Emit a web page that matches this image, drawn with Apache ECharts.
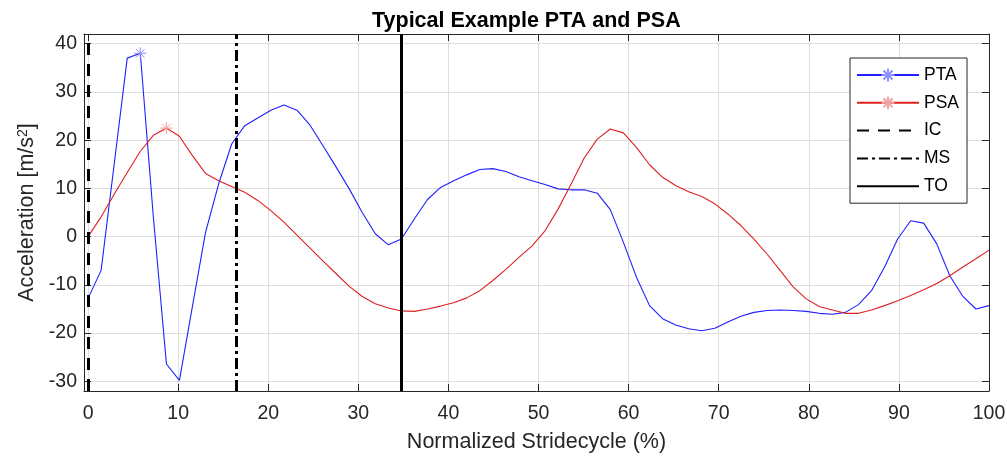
<!DOCTYPE html>
<html>
<head>
<meta charset="utf-8">
<script src="https://cdn.jsdelivr.net/npm/echarts@6/dist/echarts.min.js"></script>
<style>
  html, body { margin: 0; padding: 0; background: #fff; }
  #chart { width: 1007px; height: 456px; }
</style>
</head>
<body>
<div id="chart"></div>
<script>
// normalized stride cycle, 70 samples
const stride = [
  0, 1.45, 2.90, 4.35, 5.80, 7.25, 8.70, 10.14, 11.59, 13.04,
  14.49, 15.94, 17.39, 18.84, 20.29, 21.74, 23.19, 24.64, 26.09, 27.54,
  28.99, 30.43, 31.88, 33.33, 34.78, 36.23, 37.68, 39.13, 40.58, 42.03,
  43.48, 44.93, 46.38, 47.83, 49.28, 50.72, 52.17, 53.62, 55.07, 56.52,
  57.97, 59.42, 60.87, 62.32, 63.77, 65.22, 66.67, 68.12, 69.57, 71.01,
  72.46, 73.91, 75.36, 76.81, 78.26, 79.71, 81.16, 82.61, 84.06, 85.51,
  86.96, 88.41, 89.86, 91.30, 92.75, 94.20, 95.65, 97.10, 98.55, 100
];

const pta = [
  -12.8, -7.0, 15.0, 37.0, 38.0, 4.0, -26.4, -29.8, -14.4, 0.9,
  10.9, 19.2, 23.0, 24.6, 26.2, 27.3, 26.2, 23.1, 18.8, 14.4,
  9.9, 5.0, 0.6, -1.7, -0.5, 3.7, 7.7, 10.2, 11.6, 12.8,
  13.9, 14.1, 13.5, 12.4, 11.6, 10.8, 9.9, 9.7, 9.7, 9.0,
  5.6, -1.2, -8.4, -14.3, -17.0, -18.3, -19.1, -19.5, -19.0, -17.7,
  -16.5, -15.7, -15.3, -15.2, -15.3, -15.5, -15.9, -16.1, -15.7, -14.1,
  -11.2, -6.3, -0.5, 3.3, 2.8, -1.5, -8.1, -12.4, -15.0, -14.3
];

const psa = [
  0.0, 4.1, 8.8, 13.3, 17.7, 21.0, 22.5, 20.8, 16.8, 13.1,
  11.6, 10.4, 9.2, 7.5, 5.4, 3.0, 0.3, -2.4, -5.1, -7.7,
  -10.3, -12.4, -13.9, -14.8, -15.4, -15.5, -15.0, -14.4, -13.7, -12.7,
  -11.2, -9.1, -6.8, -4.3, -1.9, 1.2, 5.7, 10.9, 16.3, 20.2,
  22.3, 21.5, 18.5, 14.9, 12.3, 10.6, 9.3, 8.3, 6.8, 4.7,
  2.3, -0.5, -3.6, -7.0, -10.4, -12.9, -14.5, -15.2, -15.9, -15.9,
  -15.2, -14.3, -13.3, -12.2, -11.0, -9.7, -8.1, -6.3, -4.6, -2.8
];

// gait events (% stride)
const eventNames = ['IC', 'MS', 'TO'];
const eventX = [0, 16.4, 34.8];

const xTicks = [0, 10, 20, 30, 40, 50, 60, 70, 80, 90, 100];
const yTicks = [-30, -20, -10, 0, 10, 20, 30, 40];

const font = 'Liberation Sans, Arial, Helvetica, sans-serif';
const axisColor = '#262626';
const star = 'path://M0,-10L0,10M-10,0L10,0M-7.1,-7.1L7.1,7.1M-7.1,7.1L7.1,-7.1';

const withPeakMarker = (values) => {
  const peak = values.indexOf(Math.max(...values));
  return stride.map((x, i) =>
    i === peak ? [x, values[i]] : { value: [x, values[i]], symbol: 'none' }
  );
};

const eventStyles = {
  IC: [12, 9],
  MS: [11, 4, 3, 4],
  TO: 'solid',
};

const chart = echarts.init(document.getElementById('chart'));

const signalSeries = (name, values, color, markerColor) => ({
  name,
  type: 'line',
  data: withPeakMarker(values),
  symbol: star,
  symbolSize: 12,
  showSymbol: true,
  lineStyle: { color, width: 1.1 },
  itemStyle: { color: 'transparent', borderColor: markerColor, borderWidth: 1 },
  emphasis: { disabled: true },
  silent: true,
  z: 3,
});

const eventSeries = eventNames.map((name, k) => ({
  name,
  type: 'line',
  data: [],
  symbol: 'none',
  lineStyle: { color: '#000', width: 3, type: eventStyles[name] },
  // keeps the legend icon a plain line
  itemStyle: { color: 'transparent', borderWidth: 0 },
  markLine: {
    symbol: 'none',
    silent: true,
    label: { show: false },
    emphasis: { disabled: true },
    lineStyle: { color: '#000', width: 3, type: eventStyles[name] },
    data: [{ xAxis: eventX[k] }],
  },
  z: 4,
}));

const tickStyle = (values) => ({
  show: true,
  inside: true,
  length: 7,
  customValues: values,
  lineStyle: { color: axisColor, width: 1 },
});

const frameLine = { show: true, onZero: false, lineStyle: { color: axisColor, width: 1 } };

const option = {
  animation: false,
  backgroundColor: '#fff',
  title: {
    text: 'Typical Example PTA and PSA',
    left: 372,
    top: 10,
    padding: 0,
    textStyle: { fontFamily: font, fontSize: 21.5, fontWeight: 'bold', color: '#000' },
  },
  legend: {
    data: ['PTA', 'PSA', 'IC', 'MS', 'TO'],
    orient: 'vertical',
    left: 850,
    top: 58,
    itemWidth: 62,
    itemHeight: 16,
    itemGap: 9.8,
    padding: [8, 8, 8, 6],
    borderColor: axisColor,
    borderWidth: 1,
    backgroundColor: '#fff',
    selectedMode: false,
    textStyle: { fontFamily: font, fontSize: 17.5, color: '#000' },
  },
  grid: { left: 84, right: 18, top: 34, bottom: 65, outerBoundsMode: 'none' },
  xAxis: [
    {
      type: 'value',
      min: -0.45,
      max: 100,
      position: 'bottom',
      name: 'Normalized Stridecycle (%)',
      nameLocation: 'middle',
      nameGap: 40,
      nameTextStyle: { fontFamily: font, fontSize: 21.5, color: axisColor },
      axisLine: frameLine,
      axisTick: tickStyle(xTicks),
      axisLabel: {
        customValues: xTicks,
        margin: 13,
        fontFamily: font,
        fontSize: 19.5,
        color: axisColor,
      },
      splitLine: { show: true, lineStyle: { color: '#dedede', width: 1 } },
    },
    {
      type: 'value',
      min: -0.45,
      max: 100,
      position: 'top',
      axisLine: frameLine,
      axisTick: tickStyle(xTicks),
      axisLabel: { show: false },
      splitLine: { show: false },
    },
  ],
  yAxis: [
    {
      type: 'value',
      min: -32,
      max: 42,
      position: 'left',
      name: 'Acceleration [m/s{sup|2}]',
      nameLocation: 'middle',
      nameGap: 46,
      nameTextStyle: {
        fontFamily: font,
        fontSize: 21.5,
        color: axisColor,
        rich: {
          sup: { fontFamily: font, fontSize: 14, color: axisColor, verticalAlign: 'top', padding: [0, 0, 8, 0] },
        },
      },
      axisLine: frameLine,
      axisTick: tickStyle(yTicks),
      axisLabel: {
        customValues: yTicks,
        margin: 7,
        fontFamily: font,
        fontSize: 19.5,
        color: axisColor,
      },
      splitLine: { show: true, lineStyle: { color: '#dedede', width: 1 } },
    },
    {
      type: 'value',
      min: -32,
      max: 42,
      position: 'right',
      axisLine: frameLine,
      axisTick: tickStyle(yTicks),
      axisLabel: { show: false },
      splitLine: { show: false },
    },
  ],
  series: [
    signalSeries('PTA', pta, '#1f1fff', '#8f8fff'),
    signalSeries('PSA', psa, '#dd2020', '#f2a0a0'),
    ...eventSeries,
  ],
};

chart.setOption(option);
</script>
</body>
</html>
